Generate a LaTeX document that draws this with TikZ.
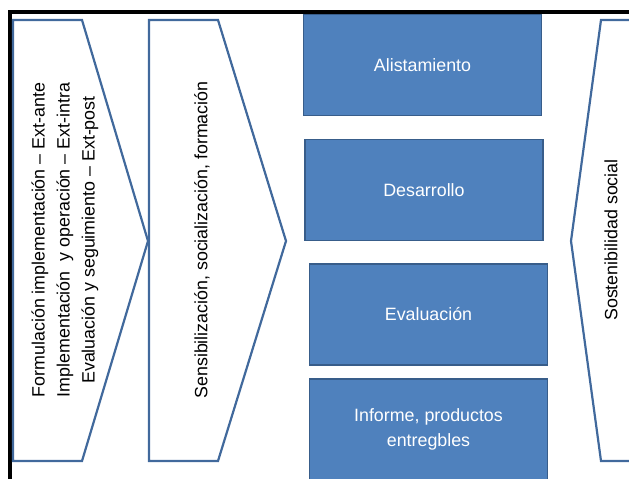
\documentclass[tikz,border=0pt]{standalone}
\usepackage{fontspec}
\setmainfont{Liberation Sans}
\usepackage{tikz}
\definecolor{stagefill}{HTML}{4F81BD}
\definecolor{stageedge}{HTML}{385D8A}
\definecolor{chevline}{HTML}{41699C}

\begin{document}
\begin{tikzpicture}[x=1bp, y=-1bp,
    stage/.style={draw=stageedge, fill=stagefill, line width=1.3bp, text=white, align=center,
      minimum width=238bp, minimum height=101bp, inner sep=0pt,
      font=\fontsize{17.9}{25.1}\selectfont},
    chev/.style={draw=chevline, line width=2.2bp, line join=miter},
    sidetext/.style={rotate=90, align=center, inner sep=0pt, font=\fontsize{17.9}{25.1}\selectfont}]
  \clip (0,0) rectangle (629,479);
  % frame
  \draw[line width=4bp] (10,485) -- (10,12) -- (635,12);
  % chevrons
  \draw[chev] (13,20) -- (82,20) -- (148,241) -- (82,461) -- (13,461) -- cycle;
  \draw[chev] (149,20) -- (218,20) -- (286,241) -- (218,461) -- (149,461) -- cycle;
  \draw[chev] (640,20) -- (601,20) -- (571,241) -- (601,461) -- (640,461);
  \node[sidetext] (phases) at (65,240) {Formulación implementación – Ext-ante\\
    Implementación~ y operación – Ext-intra\\
    Evaluación y seguimiento – Ext-post};
  \node[sidetext] (training) at (202,240) {Sensibilización, socialización, formación};
  \node[sidetext] (social) at (611,240) {Sostenibilidad social};
  % stages
  \node[stage] (prep) at (422.5,65) {Alistamiento};
  \node[stage] (devel) at (424,190) {Desarrollo};
  \node[stage] (eval) at (428.5,314.5) {Evaluación};
  \node[stage] (report) at (428.5,429.5) {Informe, productos\\entregbles};
\end{tikzpicture}
\end{document}
